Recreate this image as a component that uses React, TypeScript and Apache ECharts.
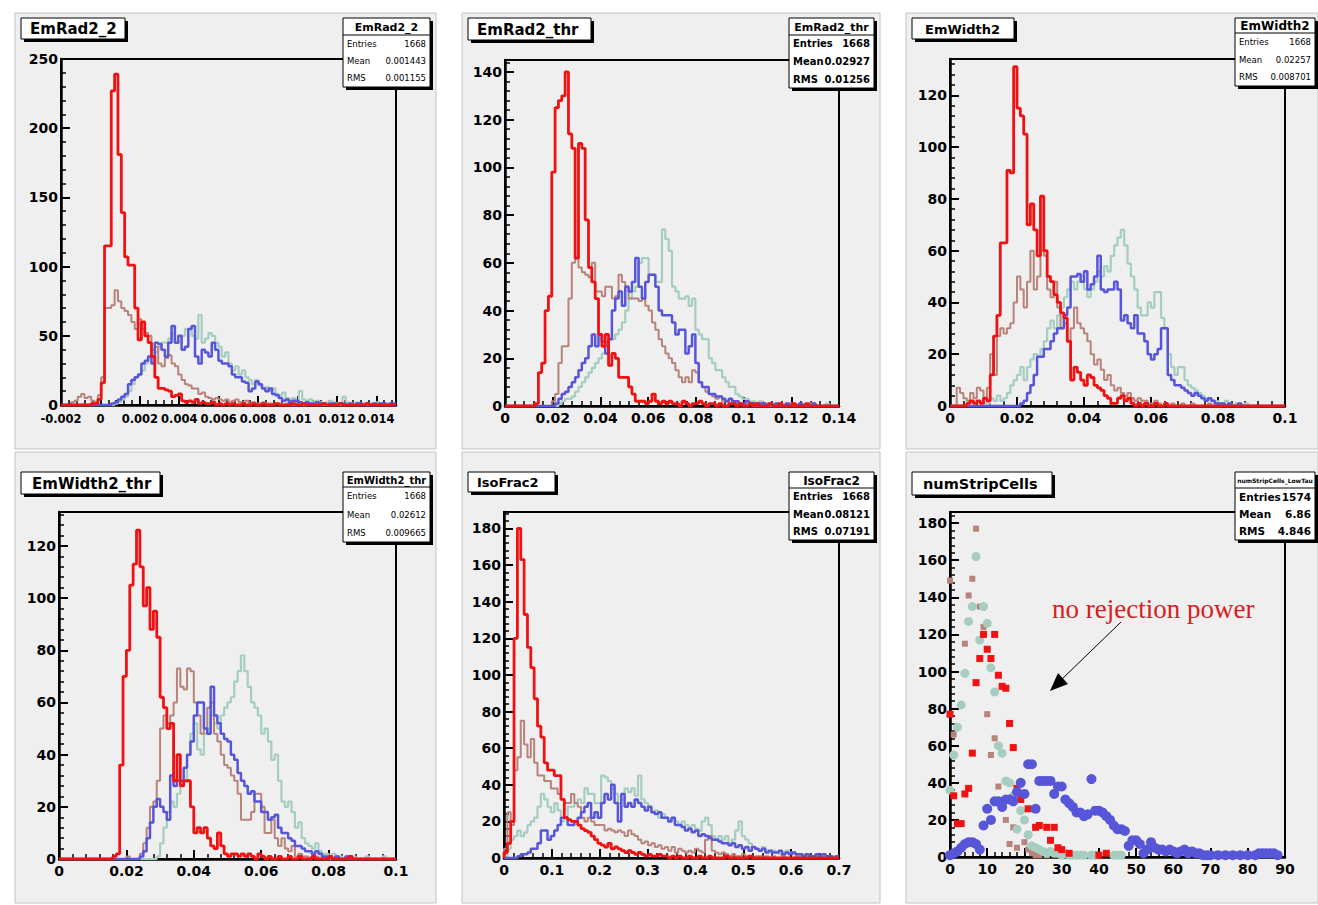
import React, { useEffect, useRef } from "react";
import * as echarts from "echarts";

// ---------------- DATA (bin contents, 100 bins each) ----------------
// EmRad2_2 : x from -0.002 to 0.015
const rad2Red = [0,0,0,0,0,0,0,0,0,1, 1,4,16,115,115,227,239,181,139,107, 101,101,70,47,60,50,45,35,20,12, 12,11,10,6,7,8,3,2,3,2, 4,1,2,1,1,2,0,1,0,1, 0,1,0,0,1,0,0,1,0,0, 1,0,0,0,1,0,0,0,0,1, 0,0,1,0,0,0,0,0,1,0, 0,0,0,1,0,0,0,0,0,0, 0,1,0,0,0,0,0,0,0,0];
const rad2Brown = [0,0,0,2,3,6,8,5,6,3, 2,7,20,70,70,72,83,75,70,68, 65,60,55,62,55,52,50,40,42,30, 28,34,36,30,28,22,18,15,14,12, 12,8,9,6,5,4,5,4,3,4, 2,3,4,2,2,3,1,2,1,1, 2,1,1,0,1,1,0,1,0,0, 1,0,0,1,0,0,0,1,0,0, 0,0,1,0,0,0,0,0,0,0, 0,0,0,0,1,0,0,0,0,0];
const rad2Blue = [0,0,0,0,0,0,0,0,0,0, 0,0,0,0,0,1,2,4,6,8, 15,18,20,22,30,32,35,30,45,44, 40,35,45,57,45,50,40,42,55,57, 35,30,40,38,35,45,40,32,30,30, 28,22,20,20,17,16,10,12,17,15, 12,10,12,8,7,5,3,4,2,3, 3,2,1,2,1,1,2,1,1,0, 1,1,0,1,1,0,1,0,1,1, 0,1,0,1,0,1,1,0,1,1];
const rad2Teal = [0,0,0,0,0,0,0,0,0,0, 0,0,0,0,0,0,1,2,4,6, 10,15,20,22,25,30,35,35,38,42, 45,45,48,52,45,45,50,55,55,50, 48,65,45,48,52,50,45,42,35,38, 30,25,28,22,25,20,18,15,18,14, 12,13,10,12,8,7,9,5,4,5, 3,10,4,3,4,2,3,2,1,2, 3,2,1,1,6,2,1,1,2,1, 1,0,1,1,2,1,0,1,0,1];

// EmRad2_thr : x from 0 to 0.14
const thrRed = [0,0,0,0,0,0,0,0,0,1, 14,18,40,46,98,125,128,130,140,114, 108,62,110,108,78,58,52,45,30,25, 30,17,22,20,12,12,12,8,5,2, 2,2,1,2,5,2,1,2,1,2, 1,1,0,2,1,0,1,1,2,1, 0,1,1,0,1,0,0,1,1,0, 1,0,0,1,0,1,0,0,0,1, 0,0,1,0,0,0,1,0,0,0, 1,0,0,0,0,0,0,0,0,0];
const thrBrown = [0,0,0,0,0,0,0,0,0,0, 0,0,0,0,2,5,18,25,25,45, 60,62,58,56,55,54,60,48,48,46, 50,50,45,46,55,52,50,45,45,45, 44,45,42,40,35,32,28,25,22,20, 18,15,12,10,12,10,15,14,10,8, 6,5,4,3,4,2,2,1,2,1, 1,1,0,1,0,1,0,0,1,0, 0,1,0,0,0,1,0,0,0,0, 0,0,1,0,0,0,0,0,0,0];
const thrBlue = [0,0,0,0,0,0,0,0,0,0, 0,0,0,0,0,1,3,5,6,8, 10,12,15,18,20,25,30,25,30,27, 22,28,40,45,48,42,50,48,52,62, 50,45,52,55,55,50,40,38,38,38, 35,30,32,32,22,25,30,18,10,8, 8,5,5,4,4,3,2,3,2,2, 1,1,2,1,1,0,1,1,0,1, 0,1,0,0,1,0,0,0,1,0, 0,0,1,0,0,0,0,0,0,0];
const thrTeal = [0,0,0,0,0,0,0,0,0,0, 0,0,0,0,0,0,1,2,3,3, 4,6,8,10,12,14,16,18,20,22, 25,28,28,30,32,35,40,45,48,50, 60,62,62,55,55,52,52,74,70,65, 50,48,45,45,46,42,45,32,30,28, 28,20,18,15,15,12,10,8,8,5, 4,3,3,2,2,1,2,1,1,0, 1,0,1,0,0,1,0,0,0,1, 0,1,0,0,0,0,1,0,0,0];

// EmWidth2 : x from 0 to 0.1
const widRed = [0,0,0,0,0,1,2,1,2,1, 3,2,12,27,35,63,63,91,90,131, 115,112,105,70,78,68,58,81,60,50, 48,43,40,36,34,25,10,15,13,10, 8,12,11,8,7,6,4,3,1,1, 3,4,2,3,1,0,1,0,1,0, 0,1,0,0,1,0,0,0,0,0, 0,0,0,0,0,0,0,0,0,0, 0,0,0,0,0,0,0,0,0,0, 0,0,0,0,0,0,0,0,0,0];
const widBrown = [0,0,7,5,3,2,5,3,7,6, 3,7,20,12,27,30,28,30,32,40, 50,45,38,48,60,45,50,60,58,45, 42,48,38,30,32,25,30,38,32,30, 28,25,20,16,18,14,10,12,8,6, 7,5,4,5,3,2,3,2,2,1, 1,2,1,0,1,0,1,0,0,1, 0,0,1,0,0,0,0,1,0,0, 0,0,0,0,0,0,0,0,0,0, 0,0,0,0,0,0,0,0,0,0];
const widBlue = [0,0,0,0,0,0,0,0,0,0, 0,0,0,0,0,0,0,0,0,0, 0,1,2,5,8,12,19,19,22,22, 25,28,30,30,35,38,50,50,51,48, 52,45,47,50,58,45,44,45,45,48, 45,33,35,32,30,35,28,28,25,20, 18,20,22,30,30,12,10,8,8,7, 6,5,4,5,4,3,2,3,2,1, 1,1,0,1,0,0,1,0,0,0, 0,0,0,0,0,0,0,0,0,0];
const widTeal = [0,0,0,0,0,0,0,0,0,0, 1,1,3,2,4,2,3,5,8,10, 12,15,10,15,18,20,19,22,25,30, 33,30,35,38,42,45,48,45,48,50, 45,42,45,48,52,50,54,52,58,62, 65,68,62,55,50,45,38,35,35,40, 38,44,44,34,30,20,15,12,15,15, 10,8,7,6,5,4,3,3,2,2, 1,1,2,1,0,1,0,0,1,0, 0,0,0,0,0,0,0,0,0,0];

// EmWidth2_thr : x from 0 to 0.1
const wthrRed = [0,0,0,0,0,0,0,0,0,0, 0,0,0,0,0,0,1,2,36,70, 80,105,113,126,112,97,104,88,95,85, 62,58,50,52,30,40,28,30,30,20, 10,12,10,12,8,5,4,10,5,2, 1,2,2,1,2,1,2,1,0,2, 1,0,1,0,0,1,0,0,1,0, 0,1,0,0,0,1,0,0,0,0, 1,0,0,0,0,0,1,0,0,0, 0,0,0,0,0,0,0,0,0,0];
const wthrBrown = [0,0,0,0,0,0,0,0,0,0, 0,0,0,0,0,0,0,0,0,0, 1,0,0,0,2,6,12,20,22,30, 50,55,52,55,60,73,66,65,73,72, 60,55,48,50,58,60,48,45,40,36, 35,32,30,25,15,15,15,18,25,25, 20,10,10,15,8,5,8,4,3,5, 1,2,1,1,0,1,1,0,1,0, 0,0,1,0,0,0,0,0,0,0, 0,0,0,0,0,0,0,0,0,0];
const wthrBlue = [0,0,0,0,0,0,0,0,0,0, 0,0,0,0,0,0,0,0,0,0, 0,0,0,0,1,3,8,14,20,23, 20,18,15,32,28,30,30,35,40,45, 55,60,60,50,48,66,55,52,48,46, 45,40,38,33,30,28,25,26,22,22, 18,18,15,16,17,12,10,10,8,7, 5,5,4,3,3,2,3,2,1,1, 1,0,1,0,0,1,0,0,0,0, 0,0,0,0,0,0,0,0,0,0];
const wthrTeal = [0,0,0,0,0,0,0,0,0,0, 0,0,0,0,0,0,0,0,0,0, 0,0,0,0,0,0,0,0,0,1, 6,12,18,22,20,25,28,30,40,48, 52,42,40,48,50,55,52,50,55,58, 60,62,68,72,78,72,66,60,58,55, 48,50,45,38,40,30,22,20,22,18, 12,14,8,6,5,4,6,3,2,2, 1,2,1,1,0,1,0,1,0,0, 0,1,0,0,0,0,1,0,0,0];

// IsoFrac2 : x from 0 to 0.7
const isoRed = [3,8,20,120,180,163,133,115,104,87, 72,66,52,48,48,45,45,32,22,21, 20,20,18,16,15,14,12,10,8,7, 6,8,5,6,5,4,3,4,3,2, 3,2,1,2,1,1,2,1,1,0, 1,0,1,0,0,1,0,0,1,0, 0,1,0,0,0,0,1,0,0,0, 0,0,0,1,0,0,0,0,0,0, 0,0,0,0,0,0,0,0,0,0, 0,0,0,0,0,0,0,0,0,0];
const isoBrown = [5,25,18,48,55,75,62,55,65,52, 45,45,42,42,38,38,35,32,30,30, 35,30,28,22,20,22,20,18,18,18, 15,16,15,14,15,14,12,15,13,12, 10,8,9,7,8,6,7,5,6,4, 6,3,5,4,3,4,3,5,4,3, 10,12,4,3,2,3,2,1,2,1, 1,2,1,1,0,1,1,0,1,0, 1,0,0,1,0,0,0,1,0,0, 0,0,0,0,1,0,0,0,0,0];
const isoBlue = [0,0,0,0,1,2,2,3,5,5, 8,15,15,10,12,15,18,22,22,18, 18,20,22,25,28,30,22,25,22,30, 35,32,40,30,20,35,28,30,28,32, 30,28,26,28,25,24,25,22,22,20, 22,18,18,17,15,16,14,15,12,13, 12,11,10,10,9,8,8,7,8,6, 7,5,6,4,6,5,4,5,3,4, 3,3,4,2,3,2,3,2,2,1, 2,1,1,2,1,2,1,1,0,1];
const isoTeal = [1,5,10,12,15,12,14,18,20,22, 28,35,32,28,25,30,26,20,22,28, 28,30,32,30,38,35,35,30,30,45, 44,42,38,35,30,32,38,36,38,34, 45,32,30,28,25,26,22,24,22,20, 22,20,18,20,18,17,18,16,15,20, 22,18,12,10,12,10,12,8,10,15, 20,12,10,8,6,5,4,6,4,3, 4,3,2,3,4,3,2,2,1,2, 1,1,0,1,1,0,1,0,1,0];

// numStripCells : one value per cell count 0..89 (null = empty bin)
const n = null;
const stripRed = [77,33,18,18,34,37,56,94,107,120, 112,107,120,98,92,91,72,59,37,31, n,26,n,16,17,n,16,9,16,5, 4,n,2,n,n,n,n,n,n,n, 1,n,2,n,n,n,n,n,n,n, n,n,n,n,n,n,n,n,n,n, n,n,n,n,n,n,n,n,n,n, n,n,n,n,n,n,n,n,n,n, n,n,n,n,n,n,n,n,n,n];
const stripBrown = [149,66,n,n,115,141,150,177,135,124, 77,55,64,38,n,20,7,16,5,n, 8,4,2,1,1,n,1,n,n,n, n,n,n,n,n,n,n,n,n,n, n,n,n,n,n,n,n,n,n,n, n,n,n,n,n,n,n,n,n,n, n,n,n,n,n,n,n,n,n,n, n,n,n,n,n,n,n,n,n,n, n,n,n,n,n,n,n,n,n,n];
const stripTeal = [36,55,70,82,99,127,135,162,117,135, 126,102,89,60,56,41,40,33,15,25, 20,12,6,5,4,3,2,3,2,2, 1,2,1,1,1,1,1,n,1,1, n,n,n,n,1,1,1,n,n,n, n,n,n,n,n,n,n,n,n,n, n,n,n,n,n,n,n,n,n,n, n,n,n,n,n,n,n,n,n,n, n,n,n,n,n,n,n,n,n,n];
const stripBlue = [1,2,3,5,7,8,8,7,4,17, 26,20,30,30,27,31,31,30,35,40, 34,50,50,26,41,41,41,41,34,38, 38,31,29,27,24,24,22,23,42,25, 25,24,22,20,17,15,15,14,6,9, 9,7,2,4,8,5,4,4,3,4, 3,2,3,4,2,3,2,2,1,1, 1,n,1,n,1,n,1,n,1,n, 1,n,1,2,2,2,2,2,1,n];

// Stats boxes
const statTitles = ["EmRad2_2", "EmRad2_thr", "EmWidth2", "EmWidth2_thr", "IsoFrac2", "numStripCells_LowTau"];
const statEntries = ["1668", "1668", "1668", "1668", "1668", "1574"];
const statMeans = ["0.001443", "0.02927", "0.02257", "0.02612", "0.08121", "6.86"];
const statRMS = ["0.001155", "0.01256", "0.008701", "0.009665", "0.07191", "4.846"];
const panelTitles = ["EmRad2_2", "EmRad2_thr", "EmWidth2", "EmWidth2_thr", "IsoFrac2", "numStripCells"];
const annotation = "no rejection power";

// ---------------- STYLE / LAYOUT ----------------
const FONT = "DejaVu Sans";
const C_RED = "#f01212";
const C_BROWN = "#b7837a";
const C_TEAL = "#a5cdc0";
const C_BLUE = "#5755d8";

const layout = [
  { frame: [61, 59, 396, 405], pad: [15, 13, 421, 436], tbox: [21, 18, 104, 21, 15, 9], sbox: [343, 18, 87, 69, 17, 11, 8.5, false], xls: 11.5, xm: 8 },
  { frame: [505, 60, 839, 406], pad: [462, 13, 418, 436], tbox: [468, 18, 123, 22, 15, 9], sbox: [789, 18, 85, 70, 17, 11, 10, true], xls: 14, xm: 5 },
  { frame: [950, 59, 1285, 406], pad: [906, 13, 412, 436], tbox: [912, 18, 102, 21, 13, 13], sbox: [1235, 18, 80, 68, 15, 12, 8.5, false], xls: 14, xm: 5 },
  { frame: [59, 512, 396, 859], pad: [15, 452, 421, 451], tbox: [21, 472, 139, 22, 15, 11], sbox: [343, 472, 87, 70, 15, 10, 8.5, false], xls: 14, xm: 5 },
  { frame: [504, 512, 839, 858], pad: [462, 452, 418, 451], tbox: [468, 472, 87, 20, 13, 9], sbox: [789, 472, 85, 68, 16, 12, 10, true], xls: 14, xm: 5 },
  { frame: [950, 512, 1285, 857], pad: [906, 452, 412, 451], tbox: [912, 472, 140, 23, 14.5, 11], sbox: [1235, 472, 80, 68, 16, 6, 10.5, true], xls: 14, xm: 5 },
];

const axes = [
  { xmin: -0.002, xmax: 0.015, xInt: 0.002, ymax: 250, yInt: 50 },
  { xmin: 0, xmax: 0.14, xInt: 0.02, ymax: 145, yInt: 20 },
  { xmin: 0, xmax: 0.1, xInt: 0.02, ymax: 134, yInt: 20 },
  { xmin: 0, xmax: 0.1, xInt: 0.02, ymax: 133, yInt: 20 },
  { xmin: 0, xmax: 0.7, xInt: 0.1, ymax: 189, yInt: 20 },
  { xmin: 0, xmax: 90, xInt: 10, ymax: 186, yInt: 20 },
];

const histSets = [
  [rad2Teal, rad2Brown, rad2Blue, rad2Red],
  [thrTeal, thrBrown, thrBlue, thrRed],
  [widTeal, widBrown, widBlue, widRed],
  [wthrTeal, wthrBrown, wthrBlue, wthrRed],
  [isoTeal, isoBrown, isoBlue, isoRed],
];
const histColors = [C_TEAL, C_BROWN, C_BLUE, C_RED];
const histWidths = [2.2, 2, 2.5, 2.8];

function fmt(step: number) {
  return (v: number) => {
    const k = v / step;
    if (Math.abs(k - Math.round(k)) > 1e-6) return "";
    return String(parseFloat((Math.round(k) * step).toFixed(6)));
  };
}

function histData(vals: number[], xmin: number, xmax: number) {
  const w = (xmax - xmin) / vals.length;
  const pts: number[][] = [[xmin, 0]];
  vals.forEach((v, i) => pts.push([xmin + i * w, v]));
  pts.push([xmax, vals[vals.length - 1]]);
  return pts;
}

function pointData(vals: (number | null)[]) {
  const pts: number[][] = [];
  vals.forEach((v, i) => {
    if (v !== null) pts.push([i, v]);
  });
  return pts;
}

function txt(x: number, y: number, text: string, size: number, bold: boolean, align: string, z: number, family = FONT, fill = "#000") {
  return {
    type: "text",
    x,
    y,
    z,
    silent: true,
    style: {
      text,
      fontSize: size,
      fontWeight: bold ? "bold" : "normal",
      fontFamily: family,
      fill,
      align,
      verticalAlign: "middle",
      textAlign: align,
      textVerticalAlign: "middle",
    },
  };
}

function buildOption() {
  const grid: any[] = [];
  const xAxis: any[] = [];
  const yAxis: any[] = [];
  const series: any[] = [];
  const elements: any[] = [];

  layout.forEach((L, i) => {
    const [l, t, r, b] = L.frame;
    const A = axes[i];
    grid.push({
      left: l,
      top: t,
      width: r - l,
      height: b - t,
      show: true,
      borderColor: "#000",
      borderWidth: 2,
      backgroundColor: "transparent",
      containLabel: false,
      outerBoundsMode: "none",
    });
    xAxis.push({
      type: "value",
      gridIndex: i,
      min: A.xmin,
      max: A.xmax,
      interval: A.xInt,
      axisLine: { show: true, onZero: false, lineStyle: { color: "#000", width: 2.5 } },
      axisTick: { show: true, inside: true, length: 9, lineStyle: { color: "#000", width: 2 } },
      minorTick: { show: true, splitNumber: 5, length: 5, lineStyle: { color: "#000", width: 1.5 } },
      splitLine: { show: false },
      axisLabel: { color: "#000", fontFamily: FONT, fontWeight: "bold", fontSize: L.xls, margin: L.xm, formatter: fmt(A.xInt) },
    });
    yAxis.push({
      type: "value",
      gridIndex: i,
      min: 0,
      max: A.ymax,
      interval: A.yInt,
      axisLine: { show: true, onZero: false, lineStyle: { color: "#000", width: 2.5 } },
      axisTick: { show: true, inside: true, length: 9, lineStyle: { color: "#000", width: 2 } },
      minorTick: { show: true, splitNumber: 5, length: 5, lineStyle: { color: "#000", width: 1.5 } },
      splitLine: { show: false },
      axisLabel: { color: "#000", fontFamily: FONT, fontWeight: "bold", fontSize: 14, margin: 3, formatter: fmt(A.yInt) },
    });

    if (i < 5) {
      histSets[i].forEach((vals, k) => {
        series.push({
          type: "line",
          xAxisIndex: i,
          yAxisIndex: i,
          step: "end",
          symbol: "none",
          silent: true,
          data: histData(vals, A.xmin, A.xmax),
          lineStyle: { color: histColors[k], width: histWidths[k] },
          z: 2 + k,
        });
      });
    }

    // pad background
    const [px, py, pw, ph] = L.pad;
    elements.push({
      type: "rect",
      z: -10,
      silent: true,
      shape: { x: px, y: py, width: pw, height: ph },
      style: { fill: "#efefef", stroke: "#c2c2c2", lineWidth: 1 },
    });

    // title box
    const [tx, ty, tw, th, tsz, tind] = L.tbox;
    elements.push({ type: "rect", z: 100, silent: true, shape: { x: tx + 3, y: ty + 3, width: tw, height: th }, style: { fill: "#000" } });
    elements.push({ type: "rect", z: 101, silent: true, shape: { x: tx, y: ty, width: tw, height: th }, style: { fill: "#fff", stroke: "#000", lineWidth: 1 } });
    elements.push(txt(tx + tind, ty + th / 2 + 0.5, panelTitles[i], tsz, true, "left", 102));

    // stats box
    const [sx, sy, sw, sh, sth, stsz, rsz, rbold] = L.sbox as [number, number, number, number, number, number, number, boolean];
    elements.push({ type: "rect", z: 100, silent: true, shape: { x: sx + 3, y: sy + 3, width: sw, height: sh }, style: { fill: "#000" } });
    elements.push({ type: "rect", z: 101, silent: true, shape: { x: sx, y: sy, width: sw, height: sh }, style: { fill: "#fff", stroke: "#000", lineWidth: 1 } });
    elements.push({ type: "line", z: 102, silent: true, shape: { x1: sx, y1: sy + sth, x2: sx + sw, y2: sy + sth }, style: { stroke: "#000", lineWidth: 1 } });
    elements.push(txt(sx + sw / 2, sy + sth / 2 + 0.5, statTitles[i], stsz, true, "center", 102));
    const rowH = (sh - sth) / 3;
    const names = ["Entries", "Mean", "RMS"];
    const vals = [statEntries[i], statMeans[i], statRMS[i]];
    names.forEach((nm, k) => {
      const cy = sy + sth + rowH * (k + 0.5);
      elements.push(txt(sx + 4, cy, nm, rsz, rbold, "left", 102));
      elements.push(txt(sx + sw - 4, cy, vals[k], rsz, rbold, "right", 102));
    });
  });

  // numStripCells markers
  const markerSets = [
    { d: stripBrown, c: C_BROWN, s: "rect", sz: 6 },
    { d: stripTeal, c: C_TEAL, s: "circle", sz: 9 },
    { d: stripRed, c: C_RED, s: "rect", sz: 7 },
    { d: stripBlue, c: C_BLUE, s: "circle", sz: 10 },
  ];
  markerSets.forEach((m, k) => {
    series.push({
      type: "scatter",
      xAxisIndex: 5,
      yAxisIndex: 5,
      symbol: m.s,
      symbolSize: m.sz,
      silent: true,
      data: pointData(m.d),
      itemStyle: { color: m.c, opacity: 1 },
      z: 2 + k,
    });
  });

  // annotation
  elements.push(txt(1052, 609, annotation, 27, false, "left", 110, "Liberation Serif", "#d42020"));
  elements.push({ type: "line", z: 110, silent: true, shape: { x1: 1121, y1: 622, x2: 1060, y2: 681 }, style: { stroke: "#000", lineWidth: 1 } });
  elements.push({
    type: "polygon",
    z: 110,
    silent: true,
    shape: { points: [[1050, 691], [1058, 673], [1068, 684]] },
    style: { fill: "#000" },
  });

  return {
    animation: false,
    backgroundColor: "#ffffff",
    grid,
    xAxis,
    yAxis,
    series,
    graphic: { elements },
  };
}

export default function App() {
  const ref = useRef<HTMLDivElement>(null);
  useEffect(() => {
    document.body.style.margin = "0";
    const chart = echarts.init(ref.current!, null, { renderer: "svg" });
    chart.setOption(buildOption() as any);
    return () => chart.dispose();
  }, []);
  return <div ref={ref} style={{ width: 1318, height: 905 }} />;
}
